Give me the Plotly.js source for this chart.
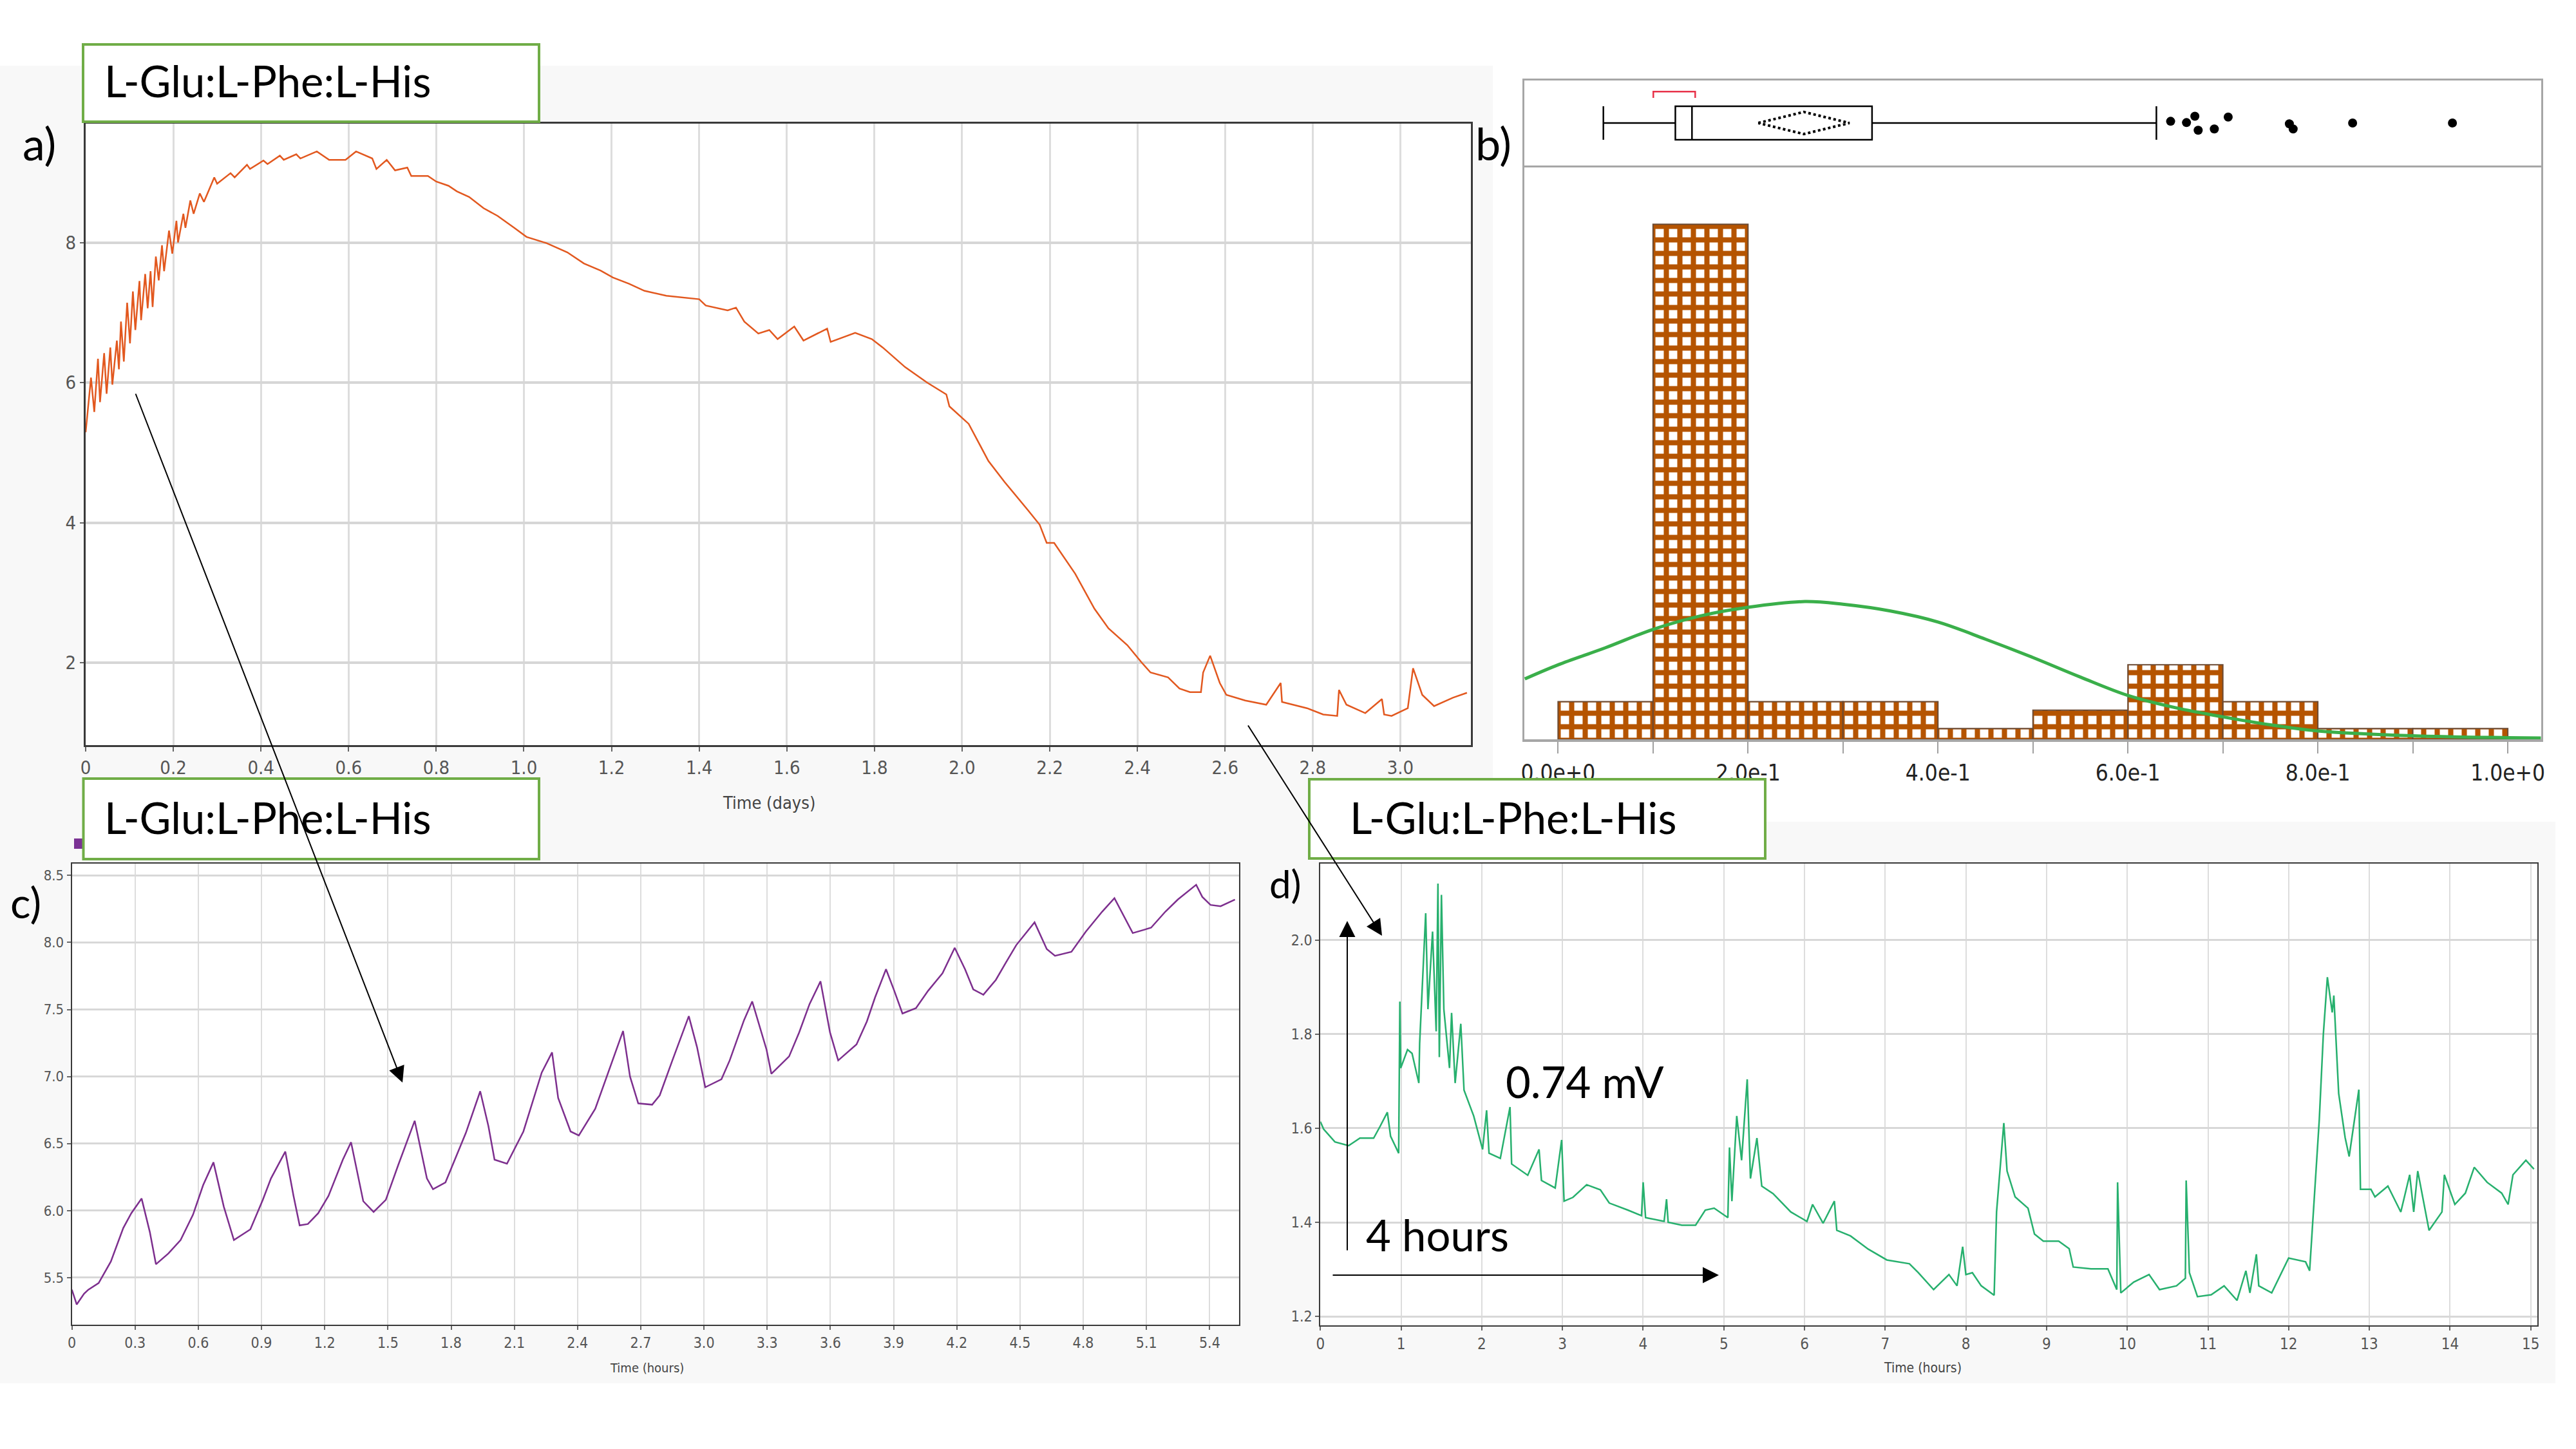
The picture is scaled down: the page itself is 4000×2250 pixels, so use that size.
<!DOCTYPE html>
<html>
<head>
<meta charset="utf-8">
<script src="https://cdn.plot.ly/plotly-3.0.1.min.js"></script>
<style>
html, body { margin: 0; padding: 0; background: #fff; }
#chart { width: 4000px; height: 2250px; }
</style>
</head>
<body>
<div id="chart"></div>
<script>
// ---------------- data ----------------

// a) potential over days
var aTime = [0, 0.0122, 0.0197, 0.0281, 0.0328, 0.0422, 0.0478, 0.0563, 0.0609, 0.0712, 0.0759, 0.0806, 0.0871, 0.0947, 0.1012, 0.1078, 0.1134, 0.1228, 0.1265, 0.1359, 0.1415, 0.1481, 0.1528, 0.1602, 0.1668, 0.1742, 0.1790, 0.1902, 0.1977, 0.2071, 0.2108, 0.2230, 0.2277, 0.2389, 0.2464, 0.2605, 0.2699,
  0.2935, 0.300, 0.3307, 0.340, 0.3682, 0.375, 0.4057, 0.415, 0.4432, 0.452, 0.4806, 0.490, 0.5275, 0.5556, 0.593, 0.617, 0.654, 0.6635, 0.687, 0.706, 0.734, 0.743, 0.781, 0.800, 0.828, 0.847, 0.875, 0.908, 0.940, 0.978, 1.006, 1.052, 1.099, 1.137, 1.175, 1.203, 1.240, 1.275, 1.325, 1.400, 1.415, 1.465, 1.484, 1.503, 1.535, 1.560, 1.579, 1.617, 1.638, 1.692, 1.700, 1.756, 1.794, 1.819, 1.870, 1.920, 1.964, 1.971, 2.015, 2.060, 2.097, 2.150, 2.177, 2.193, 2.210, 2.258, 2.302, 2.334, 2.377, 2.410, 2.430, 2.470, 2.496, 2.520, 2.545, 2.550, 2.566, 2.588, 2.603, 2.646, 2.694, 2.727, 2.730, 2.787, 2.824, 2.856, 2.860, 2.877, 2.920, 2.958, 2.963, 2.980, 3.017, 3.029, 3.050, 3.077, 3.120, 3.152];
var aMv = [5.29, 6.07, 5.58, 6.34, 5.72, 6.42, 5.84, 6.50, 5.97, 6.60, 6.19, 6.87, 6.30, 7.14, 6.56, 7.30, 6.75, 7.45, 6.89, 7.55, 7.06, 7.59, 7.08, 7.80, 7.46, 7.96, 7.59, 8.17, 7.84, 8.31, 8.00, 8.41, 8.21, 8.60, 8.41, 8.70, 8.58,
  8.93, 8.84, 8.99, 8.93, 9.11, 9.05, 9.17, 9.12, 9.24, 9.18, 9.26, 9.20, 9.30, 9.18, 9.18, 9.30, 9.20, 9.05, 9.18, 9.03, 9.07, 8.95, 8.95, 8.87, 8.81, 8.73, 8.65, 8.49, 8.38, 8.21, 8.08, 7.99, 7.86, 7.70, 7.60, 7.50, 7.41, 7.31, 7.24, 7.19, 7.10, 7.03, 7.07, 6.87, 6.70, 6.75, 6.62, 6.80, 6.60, 6.77, 6.58, 6.71, 6.62, 6.50, 6.22, 6.00, 5.83, 5.66, 5.41, 4.88, 4.58, 4.18, 3.97, 3.71, 3.71, 3.27, 2.77, 2.49, 2.25, 2.00, 1.86, 1.79, 1.63, 1.58, 1.58, 1.86, 2.10, 1.71, 1.54, 1.46, 1.40, 1.71, 1.44, 1.35, 1.26, 1.24, 1.61, 1.40, 1.28, 1.48, 1.26, 1.24, 1.35, 1.92, 1.54, 1.38, 1.50, 1.57];
var aTickVals = [0, 0.2, 0.4, 0.6, 0.8, 1.0, 1.2, 1.4, 1.6, 1.8, 2.0, 2.2, 2.4, 2.6, 2.8, 3.0];
var aTickText = ['0', '0.2', '0.4', '0.6', '0.8', '1.0', '1.2', '1.4', '1.6', '1.8', '2.0', '2.2', '2.4', '2.6', '2.8', '3.0'];

// b) histogram, fitted curve and box plot
var bBinStart = [0, 0.1, 0.2, 0.3, 0.4, 0.5, 0.6, 0.7, 0.8, 0.9];
var bCounts = [3.1, 42.1, 3.1, 3.1, 0.9, 2.4, 6.1, 3.1, 0.9, 0.9];
var bFitX = [-0.035, 0.0, 0.05, 0.1, 0.15, 0.2, 0.26, 0.3, 0.35, 0.4, 0.45, 0.5, 0.55, 0.6, 0.65, 0.7, 0.75, 0.8, 0.9, 1.0, 1.035];
var bFitY = [4.95, 6.1, 7.5, 9.0, 10.1, 10.8, 11.27, 11.05, 10.5, 9.6, 8.2, 6.7, 5.1, 3.6, 2.6, 1.85, 1.2, 0.7, 0.3, 0.15, 0.12];
var bTickVals = [0, 0.1, 0.2, 0.3, 0.4, 0.5, 0.6, 0.7, 0.8, 0.9, 1.0];
var bTickText = ['0.0e+0', '', '2.0e-1', '', '4.0e-1', '', '6.0e-1', '', '8.0e-1', '', '1.0e+0'];
var bLowWhisker = 0.0477, bQ1 = 0.1235, bMedian = 0.141, bQ3 = 0.3306, bHighWhisker = 0.630;
var bMean = 0.2588, bMeanCI = 0.048;
var bShortestHalf = [0.1003, 0.1444];
var bOutliers = [0.645, 0.6617, 0.6705, 0.674, 0.691, 0.7056, 0.770, 0.774, 0.8366, 0.9417];
var bOutlierJitter = [0.04, 0.01, 0.16, -0.17, -0.14, 0.14, -0.02, -0.14, 0, 0];

// c) zoom of the first hours
var cHours = [0, 0.023, 0.058, 0.078, 0.127, 0.185, 0.244, 0.282, 0.331, 0.370, 0.399, 0.458, 0.516, 0.575, 0.623, 0.672, 0.721, 0.769, 0.847, 0.906, 0.945, 1.013, 1.052, 1.081, 1.120, 1.169, 1.218, 1.286, 1.325, 1.383, 1.432, 1.490, 1.549, 1.627, 1.685, 1.714, 1.773, 1.870, 1.938, 1.977, 2.006, 2.065, 2.143, 2.230, 2.279, 2.308, 2.367, 2.406, 2.484, 2.616, 2.649, 2.688, 2.754, 2.790, 2.850, 2.928, 2.967, 3.006, 3.083, 3.122, 3.190, 3.229, 3.297, 3.320, 3.404, 3.452, 3.501, 3.553, 3.598, 3.637, 3.724, 3.773, 3.812, 3.864, 3.903, 3.942, 4.006, 4.064, 4.132, 4.190, 4.239, 4.278, 4.326, 4.385, 4.433, 4.482, 4.569, 4.627, 4.666, 4.744, 4.812, 4.890, 4.948, 4.996, 5.035, 5.122, 5.190, 5.249, 5.336, 5.365, 5.404, 5.452, 5.520];
var cMv = [5.41, 5.30, 5.38, 5.41, 5.46, 5.62, 5.87, 5.98, 6.09, 5.84, 5.60, 5.68, 5.78, 5.97, 6.19, 6.36, 6.03, 5.78, 5.86, 6.08, 6.24, 6.44, 6.11, 5.89, 5.90, 5.98, 6.11, 6.38, 6.51, 6.07, 5.99, 6.08, 6.34, 6.67, 6.24, 6.16, 6.21, 6.58, 6.89, 6.63, 6.38, 6.35, 6.59, 7.03, 7.18, 6.84, 6.59, 6.56, 6.76, 7.34, 7.00, 6.80, 6.79, 6.86, 7.12, 7.45, 7.22, 6.92, 6.98, 7.12, 7.42, 7.56, 7.20, 7.02, 7.15, 7.33, 7.54, 7.71, 7.33, 7.12, 7.24, 7.41, 7.59, 7.80, 7.64, 7.47, 7.51, 7.64, 7.77, 7.96, 7.80, 7.65, 7.61, 7.72, 7.85, 7.98, 8.15, 7.95, 7.90, 7.93, 8.08, 8.23, 8.33, 8.19, 8.07, 8.11, 8.23, 8.32, 8.43, 8.34, 8.28, 8.27, 8.32];
var cTickVals = [0, 0.3, 0.6, 0.9, 1.2, 1.5, 1.8, 2.1, 2.4, 2.7, 3.0, 3.3, 3.6, 3.9, 4.2, 4.5, 4.8, 5.1, 5.4];
var cTickText = ['0', '0.3', '0.6', '0.9', '1.2', '1.5', '1.8', '2.1', '2.4', '2.7', '3.0', '3.3', '3.6', '3.9', '4.2', '4.5', '4.8', '5.1', '5.4'];

// d) zoom of the tail
var dHours = [0, 0.04, 0.18, 0.35, 0.49, 0.66, 0.74, 0.83, 0.87, 0.97, 0.985, 0.996, 1.08, 1.136, 1.22, 1.23, 1.305, 1.333, 1.39, 1.435, 1.457, 1.474, 1.50, 1.53, 1.60, 1.626, 1.67, 1.74, 1.78, 1.90, 2.01, 2.06, 2.09, 2.23, 2.35, 2.37, 2.57, 2.71, 2.74, 2.91, 2.99, 3.02, 3.13, 3.30, 3.47, 3.58, 3.81, 3.98, 4.00, 4.03, 4.26, 4.29, 4.31, 4.48, 4.65, 4.77, 4.88, 5.05, 5.07, 5.10, 5.16, 5.22, 5.29, 5.33, 5.41, 5.47, 5.61, 5.83, 6.03, 6.10, 6.23, 6.37, 6.40, 6.57, 6.79, 7.02, 7.30, 7.41, 7.60, 7.79, 7.89, 7.96, 8.00, 8.08, 8.19, 8.35, 8.38, 8.47, 8.51, 8.61, 8.77, 8.85, 8.96, 9.15, 9.28, 9.33, 9.55, 9.76, 9.87, 9.88, 9.92, 10.08, 10.27, 10.40, 10.61, 10.72, 10.73, 10.77, 10.87, 11.04, 11.20, 11.36, 11.47, 11.52, 11.60, 11.63, 11.79, 12.00, 12.21, 12.26, 12.38, 12.43, 12.48, 12.54, 12.56, 12.62, 12.70, 12.75, 12.87, 12.89, 13.02, 13.07, 13.23, 13.39, 13.50, 13.55, 13.60, 13.74, 13.90, 13.93, 14.06, 14.19, 14.30, 14.46, 14.64, 14.72, 14.78, 14.94, 15.04];
var dMv = [1.614, 1.598, 1.571, 1.563, 1.579, 1.579, 1.604, 1.634, 1.583, 1.547, 1.869, 1.728, 1.767, 1.759, 1.696, 1.780, 2.057, 1.853, 2.018, 1.806, 2.120, 1.751, 2.096, 1.853, 1.728, 1.845, 1.696, 1.822, 1.681, 1.626, 1.555, 1.638, 1.547, 1.536, 1.645, 1.524, 1.500, 1.555, 1.489, 1.473, 1.575, 1.445, 1.453, 1.480, 1.469, 1.441, 1.426, 1.414, 1.485, 1.410, 1.402, 1.449, 1.400, 1.394, 1.394, 1.426, 1.430, 1.410, 1.559, 1.445, 1.626, 1.532, 1.704, 1.493, 1.579, 1.477, 1.461, 1.422, 1.402, 1.438, 1.398, 1.445, 1.383, 1.371, 1.343, 1.320, 1.312, 1.293, 1.257, 1.289, 1.265, 1.348, 1.289, 1.293, 1.265, 1.245, 1.422, 1.611, 1.509, 1.454, 1.430, 1.375, 1.360, 1.360, 1.344, 1.305, 1.301, 1.301, 1.257, 1.485, 1.250, 1.273, 1.289, 1.257, 1.265, 1.281, 1.489, 1.293, 1.242, 1.246, 1.265, 1.234, 1.297, 1.250, 1.332, 1.265, 1.250, 1.324, 1.316, 1.297, 1.619, 1.800, 1.921, 1.846, 1.882, 1.674, 1.580, 1.540, 1.682, 1.470, 1.470, 1.454, 1.477, 1.422, 1.501, 1.422, 1.509, 1.383, 1.422, 1.501, 1.438, 1.462, 1.517, 1.485, 1.462, 1.438, 1.501, 1.532, 1.513];

var boxLabel = 'L-Glu:L-Phe:L-His';

// ---------------- helpers ----------------
var W = 4000, H = 2250;
function fx(p) { return p / W; }
function fy(p) { return 1 - p / H; }

var narrow = 'Liberation Sans Narrow, DejaVu Sans Condensed, Arial Narrow, sans-serif';
var calib = 'Lato, Open Sans, sans-serif';

function frameAxis(extra) {
  var ax = {
    showline: true, mirror: true, linecolor: '#3a3a3a', linewidth: 3,
    showgrid: true, gridcolor: '#dddddd', gridwidth: 3,
    zeroline: false, ticks: 'outside', ticklen: 6, tickwidth: 2, tickcolor: '#666',
    tickfont: { family: narrow, color: '#555' }, fixedrange: true
  };
  for (var k in extra) ax[k] = extra[k];
  return ax;
}

function plainAxis(extra) {
  var ax = {
    showline: true, mirror: true, linecolor: '#a6a6a6', linewidth: 3,
    showgrid: false, zeroline: false, showticklabels: false, ticks: '', fixedrange: true
  };
  for (var k in extra) ax[k] = extra[k];
  return ax;
}

function text(t, x, y, size, family, anchor) {
  return {
    xref: 'paper', yref: 'paper', x: fx(x), y: fy(y), xanchor: anchor || 'left', yanchor: 'middle',
    text: t, showarrow: false, font: { family: family || calib, size: size, color: '#000' }
  };
}

function arrow(tailX, tailY, tipX, tipY) {
  return {
    xref: 'paper', yref: 'paper', x: fx(tipX), y: fy(tipY),
    axref: 'pixel', ayref: 'pixel', ax: tailX - tipX, ay: tailY - tipY,
    text: '', showarrow: true, arrowhead: 2, arrowsize: 2.5, arrowwidth: 2,
    arrowcolor: '#000', standoff: 0, startstandoff: 0
  };
}

function rect(x0, y0, x1, y1, fill, lineColor, lineWidth, layer) {
  return {
    type: 'rect', xref: 'paper', yref: 'paper',
    x0: fx(x0), x1: fx(x1), y0: fy(y1), y1: fy(y0),
    fillcolor: fill, line: { color: lineColor || fill, width: lineWidth || 0 }, layer: layer || 'below'
  };
}

// ---------------- traces ----------------
var traces = [];

traces.push({
  x: aTime, y: aMv, xaxis: 'x', yaxis: 'y', type: 'scatter', mode: 'lines',
  line: { color: '#e2581f', width: 2.5 }, hoverinfo: 'skip'
});

traces.push({
  x: bBinStart, y: bCounts, xaxis: 'x2', yaxis: 'y2', type: 'bar',
  width: 0.1, offset: 0,
  marker: {
    color: '#b55400',
    line: { color: '#6b4a33', width: 2 },
    pattern: { shape: '+', fillmode: 'replace', fgcolor: '#b55400', bgcolor: '#ffffff', size: 21, solidity: 0.62 }
  },
  hoverinfo: 'skip'
});

traces.push({
  x: bFitX, y: bFitY, xaxis: 'x2', yaxis: 'y2', type: 'scatter', mode: 'lines',
  line: { color: '#3aaf4a', width: 5, shape: 'spline' }, hoverinfo: 'skip'
});

traces.push({
  type: 'box', orientation: 'h', xaxis: 'x3', yaxis: 'y3',
  y: [0], q1: [bQ1], median: [bMedian], q3: [bQ3],
  lowerfence: [bLowWhisker], upperfence: [bHighWhisker],
  width: 0.79, whiskerwidth: 1, boxpoints: false,
  fillcolor: '#ffffff', line: { color: '#000000', width: 2.5 }, hoverinfo: 'skip'
});

traces.push({
  x: [bMean - bMeanCI, bMean, bMean + bMeanCI, bMean, bMean - bMeanCI],
  y: [0, 0.26, 0, -0.26, 0], xaxis: 'x3', yaxis: 'y3', type: 'scatter', mode: 'lines',
  line: { color: '#000', width: 4, dash: 'dot' }, hoverinfo: 'skip'
});

traces.push({
  x: bOutliers, y: bOutlierJitter, xaxis: 'x3', yaxis: 'y3', type: 'scatter', mode: 'markers',
  marker: { color: '#000', size: 14 }, hoverinfo: 'skip'
});

traces.push({
  x: [bShortestHalf[0], bShortestHalf[0], bShortestHalf[1], bShortestHalf[1]],
  y: [0.59, 0.74, 0.74, 0.59], xaxis: 'x3', yaxis: 'y3', type: 'scatter', mode: 'lines',
  line: { color: '#e8334a', width: 2.5 }, hoverinfo: 'skip'
});

traces.push({
  x: cHours, y: cMv, xaxis: 'x4', yaxis: 'y4', type: 'scatter', mode: 'lines',
  line: { color: '#7d2f8e', width: 2.5 }, hoverinfo: 'skip'
});

traces.push({
  x: dHours, y: dMv, xaxis: 'x5', yaxis: 'y5', type: 'scatter', mode: 'lines',
  line: { color: '#27b06e', width: 2.5 }, hoverinfo: 'skip'
});

// ---------------- layout ----------------
var layout = {
  width: W, height: H,
  margin: { l: 0, r: 0, t: 0, b: 0, pad: 0 },
  paper_bgcolor: '#f8f8f8', plot_bgcolor: '#ffffff',
  showlegend: false, hovermode: false,
  font: { family: narrow, color: '#444' },

  xaxis: frameAxis({ domain: [fx(133), fx(2284)], range: [0, 3.161], anchor: 'y',
    tickvals: aTickVals, ticktext: aTickText, tickfont: { family: narrow, size: 29, color: '#555' }, ticklen: 7 }),
  yaxis: frameAxis({ domain: [fy(1157), fy(192)], range: [0.823, 9.697], anchor: 'x',
    tick0: 0, dtick: 2, tickfont: { family: narrow, size: 29, color: '#555' }, gridcolor: '#d6d6d6', gridwidth: 4 }),

  xaxis2: plainAxis({ domain: [fx(2367), fx(3945.7)], range: [-0.0355, 1.035], anchor: 'y2', mirror: false,
    linewidth: 4, showticklabels: true, tickvals: bTickVals, ticktext: bTickText,
    ticks: 'outside', ticklen: 18, tickwidth: 2, tickcolor: '#a0a0a0',
    tickfont: { family: narrow, size: 35, color: '#222' } }),
  yaxis2: plainAxis({ domain: [fy(1148.3), fy(257)], range: [0, 46.9], anchor: 'x2' }),

  xaxis3: plainAxis({ domain: [fx(2367), fx(3945.7)], range: [-0.0355, 1.035], anchor: 'y3' }),
  yaxis3: plainAxis({ domain: [fy(257), fy(125)], range: [-1, 1], anchor: 'x3' }),

  xaxis4: frameAxis({ domain: [fx(111.6), fx(1923.5)], range: [0, 5.538], anchor: 'y4',
    tickvals: cTickVals, ticktext: cTickText, tickfont: { family: narrow, size: 23, color: '#555' }, linewidth: 2, gridwidth: 2 }),
  yaxis4: frameAxis({ domain: [fy(2057), fy(1341)], range: [5.149, 8.588], anchor: 'x4',
    tick0: 0, dtick: 0.5, tickformat: '.1f', tickfont: { family: narrow, size: 22, color: '#555' }, linewidth: 2, gridwidth: 3, gridcolor: '#d8d8d8' }),

  xaxis5: frameAxis({ domain: [fx(2050.3), fx(3939.7)], range: [0, 15.08], anchor: 'y5',
    tick0: 0, dtick: 1, tickfont: { family: narrow, size: 24, color: '#555' }, linewidth: 2, gridwidth: 2 }),
  yaxis5: frameAxis({ domain: [fy(2058), fy(1340.6)], range: [1.181, 2.163], anchor: 'x5',
    tick0: 0, dtick: 0.2, tickformat: '.1f', tickfont: { family: narrow, size: 23, color: '#555' }, linewidth: 2, gridwidth: 3, gridcolor: '#d8d8d8' }),

  shapes: [
    // white page areas around the grey screenshots
    rect(0, 0, 4000, 102, '#ffffff'),
    rect(2318, 0, 4000, 1276, '#ffffff'),
    rect(3968, 1276, 4000, 2250, '#ffffff'),
    rect(0, 2148, 4000, 2250, '#ffffff'),
    // small legend marker peeking out
    rect(115, 1302, 128, 1318, '#7b3294', '#7b3294', 0, 'above'),
    // label boxes
    rect(129, 69, 837, 189, '#ffffff', '#70ad47', 4, 'above'),
    rect(129.5, 1209, 837, 1334, '#ffffff', '#70ad47', 4, 'above'),
    rect(2033, 1210, 2741, 1333, '#ffffff', '#70ad47', 4, 'above')
  ],

  annotations: [
    text(boxLabel, 160, 125, 67),
    text(boxLabel, 160, 1269, 67),
    text(boxLabel, 2094, 1269, 67),
    text('a)', 33, 222, 70),
    text('b)', 2289, 222, 70),
    text('c)', 14, 1400, 66),
    text('d)', 1969, 1372, 60),
    text('0.74 mV', 2336, 1679, 67),
    text('4 hours', 2119, 1917, 67),
    text('Time (days)', 1194, 1246, 27, narrow, 'center'),
    text('Time (hours)', 1005, 2124, 20, narrow, 'center'),
    text('Time (hours)', 2985, 2124, 21, narrow, 'center'),
    arrow(210, 610, 625, 1681),
    arrow(1937, 1125, 2146, 1453),
    arrow(2092, 1943, 2092, 1430),
    arrow(2068, 1980, 2669, 1980)
  ]
};

// axis title colours
layout.annotations.slice(9, 12).forEach(function (a) { a.font.color = '#444'; });

Plotly.newPlot('chart', traces, layout, { staticPlot: true, displayModeBar: false });
</script>
</body>
</html>
